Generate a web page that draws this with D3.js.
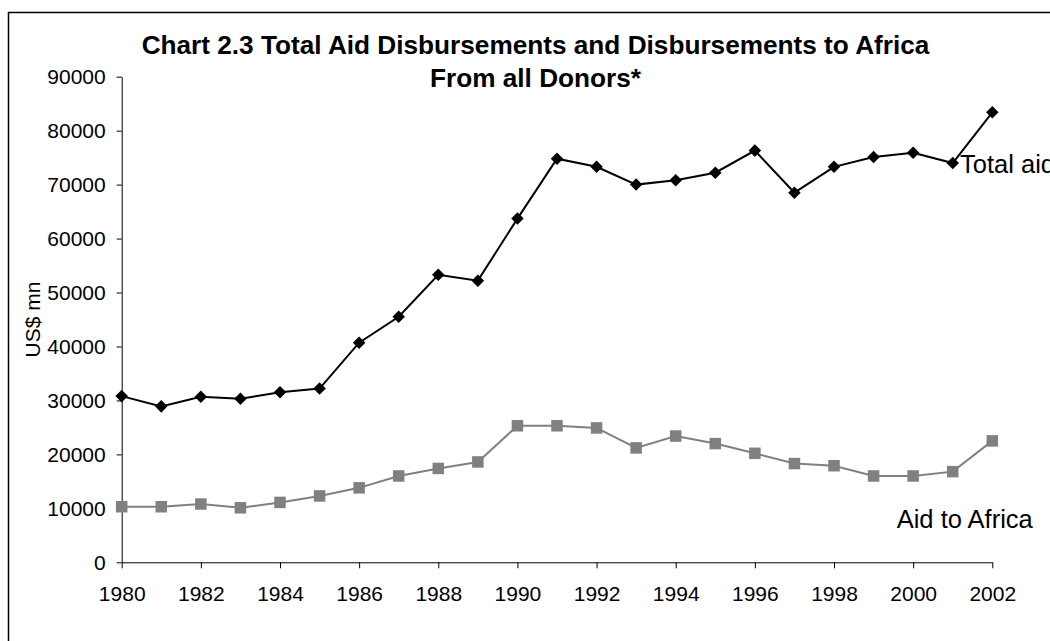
<!DOCTYPE html>
<html lang="en">
    <head>
        <meta charset="utf-8">
        <title>Chart 2.3 Total Aid Disbursements</title>
        <script type="text/javascript" src="https://cdn.jsdelivr.net/npm/d3@7"></script>
        <style type="text/css">
            body { margin: 0; background: #fff; }
            text { font-family: "Liberation Sans", Arial, sans-serif; fill: #000; }
        </style>
    </head>
    <body>
        <script type="text/javascript">

          //Width and height
          var w = 1050;
          var h = 641;

          //The data
          var years = [1980, 1981, 1982, 1983, 1984, 1985, 1986, 1987, 1988, 1989, 1990, 1991,
                       1992, 1993, 1994, 1995, 1996, 1997, 1998, 1999, 2000, 2001, 2002];
          var totalAid = [30800, 28900, 30700, 30300, 31500, 32200, 40700, 45500, 53300, 52200, 63700, 74800,
                          73300, 70000, 70800, 72200, 76300, 68500, 73300, 75100, 75900, 74000, 83400];
          var africaAid = [10300, 10300, 10800, 10100, 11100, 12300, 13800, 16000, 17400, 18600, 25300, 25300,
                           24900, 21200, 23400, 22000, 20200, 18300, 17900, 16000, 16000, 16800, 22500];
          var yTicks = [0, 10000, 20000, 30000, 40000, 50000, 60000, 70000, 80000, 90000];
          var xTicks = [1980, 1982, 1984, 1986, 1988, 1990, 1992, 1994, 1996, 1998, 2000, 2002];
          var titleLines = ["Chart 2.3 Total Aid Disbursements and Disbursements to Africa", "From all Donors*"];

          var svg = d3.select("body")
                      .append("svg")
                      .attr("width", w)
                      .attr("height", h);

          //outer frame (right and bottom edges fall outside the picture)
          svg.append("rect")
             .attr("x", 8.5)
             .attr("y", 12.5)
             .attr("width", w + 20)
             .attr("height", h + 20)
             .attr("fill", "none")
             .attr("stroke", "#000")
             .attr("stroke-width", 1.5);

          //scales
          var xScale = d3.scaleLinear()
                         .domain([1980, 2002])
                         .range([121.7, 992.3]);

          var yScale = d3.scaleLinear()
                         .domain([0, 90000])
                         .range([562.3, 76.7]);

          //axes
          var yAxis = d3.axisLeft(yScale)
                        .tickValues(yTicks)
                        .tickFormat(d3.format("d"))
                        .tickSize(5)
                        .tickSizeOuter(0)
                        .tickPadding(11);

          var xAxis = d3.axisBottom(xScale)
                        .tickValues(xTicks)
                        .tickFormat(d3.format("d"))
                        .tickSize(6)
                        .tickSizeOuter(0)
                        .tickPadding(18);

          var gy = svg.append("g")
                      .attr("transform", "translate(" + xScale(1980) + ",0)")
                      .call(yAxis);

          var gx = svg.append("g")
                      .attr("transform", "translate(0," + yScale(0) + ")")
                      .call(xAxis);

          [gx, gy].forEach(function(g) {
              g.selectAll("path, line").attr("stroke", "#000").attr("stroke-width", 1);
              g.selectAll("text")
               .attr("font-family", "Liberation Sans, Arial, sans-serif")
               .attr("font-size", "21px")
               .attr("fill", "#000");
          });

          //axis title
          svg.append("text")
             .attr("transform", "translate(40," + ((yScale(0) + yScale(90000)) / 2) + ") rotate(-90)")
             .attr("text-anchor", "middle")
             .attr("font-size", "21px")
             .text("US$ mn");

          //chart title
          svg.selectAll("text.title")
             .data(titleLines)
             .enter()
             .append("text")
             .attr("class", "title")
             .attr("x", 535.5)
             .attr("y", function(d, i) { return 54.3 + i * 33; })
             .attr("text-anchor", "middle")
             .attr("font-size", "26.2px")
             .attr("font-weight", "bold")
             .text(function(d) { return d; });

          //lines
          var line = function(values) {
              return d3.line()
                       .x(function(d, i) { return xScale(years[i]); })
                       .y(function(d) { return yScale(d); })(values);
          };

          svg.append("path")
             .attr("d", line(africaAid))
             .attr("fill", "none")
             .attr("stroke", "#808080")
             .attr("stroke-width", 2);

          svg.append("path")
             .attr("d", line(totalAid))
             .attr("fill", "none")
             .attr("stroke", "#000")
             .attr("stroke-width", 2);

          //square markers for Africa
          svg.selectAll("rect.africa")
             .data(africaAid)
             .enter()
             .append("rect")
             .attr("class", "africa")
             .attr("x", function(d, i) { return xScale(years[i]) - 5.75; })
             .attr("y", function(d) { return yScale(d) - 5.75; })
             .attr("width", 11.5)
             .attr("height", 11.5)
             .attr("fill", "#808080");

          //diamond markers for total aid
          var diamond = d3.symbol().type(d3.symbolDiamond2).size(100);
          svg.selectAll("path.total")
             .data(totalAid)
             .enter()
             .append("path")
             .attr("class", "total")
             .attr("d", diamond)
             .attr("transform", function(d, i) {
                 return "translate(" + xScale(years[i]) + "," + yScale(d) + ")";
             })
             .attr("fill", "#000");

          //series labels
          svg.append("text")
             .attr("x", 960)
             .attr("y", 173.3)
             .attr("font-size", "25.5px")
             .text("Total aid");

          svg.append("text")
             .attr("x", 896.7)
             .attr("y", 527.7)
             .attr("font-size", "25.5px")
             .text("Aid to Africa");

        </script>
    </body>
</html>
